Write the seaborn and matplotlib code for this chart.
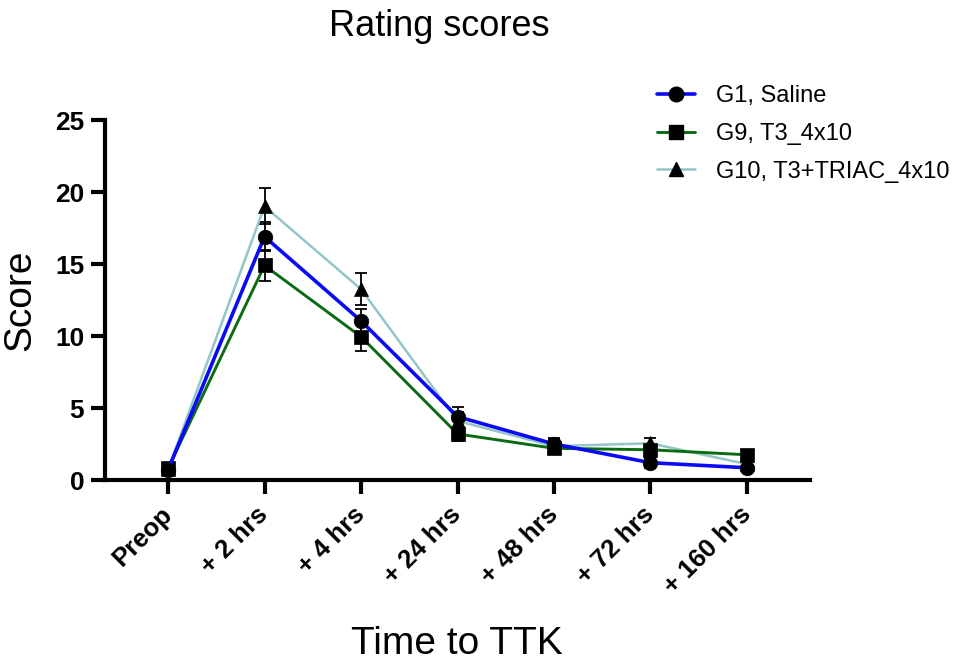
import matplotlib
matplotlib.use("Agg")
import numpy as np
import pandas as pd
import matplotlib.pyplot as plt
import seaborn as sns
from matplotlib.lines import Line2D

# ---- data ----
time_labels = ["Preop", "+ 2 hrs", "+ 4 hrs", "+ 24 hrs", "+ 48 hrs", "+ 72 hrs", "+ 160 hrs"]
series_names = ["G1, Saline", "G9, T3_4x10", "G10, T3+TRIAC_4x10"]

g1_mean = [0.7, 16.9, 11.05, 4.4, 2.5, 1.2, 0.85]
g1_sem = [0.2, 1.0, 0.85, 0.7, 0.4, 0.35, 0.2]
g9_mean = [0.8, 14.9, 9.95, 3.2, 2.2, 2.1, 1.75]
g9_sem = [0.2, 1.05, 1.0, 0.5, 0.35, 0.3, 0.2]
g10_mean = [0.75, 19.0, 13.25, 4.1, 2.35, 2.55, 1.1]
g10_sem = [0.2, 1.25, 1.1, 0.6, 0.5, 0.4, 0.2]

y_ticks = [0, 5, 10, 15, 20, 25]

means = {series_names[0]: g1_mean, series_names[1]: g9_mean, series_names[2]: g10_mean}
sems = {series_names[0]: g1_sem, series_names[1]: g9_sem, series_names[2]: g10_sem}

rows = []
for name in series_names:
    for i, lab in enumerate(time_labels):
        rows.append({"series": name, "t": i, "label": lab,
                     "score": means[name][i], "sem": sems[name][i]})
df = pd.DataFrame(rows)

# ---- styles ----
colors = {series_names[0]: "#0a0af5", series_names[1]: "#0b6b12", series_names[2]: "#93c6c8"}
markers = {series_names[0]: "o", series_names[1]: "s", series_names[2]: "^"}
msizes = {series_names[0]: 10.5, series_names[1]: 9.5, series_names[2]: 10.5}
lws = {series_names[0]: 2.6, series_names[1]: 2.1, series_names[2]: 1.8}
zord = {series_names[0]: 3.2, series_names[1]: 3.1, series_names[2]: 3.0}

sns.set_style("ticks")
plt.rcParams["font.family"] = ["Liberation Sans", "DejaVu Sans"]
plt.rcParams["text.color"] = "black"
plt.rcParams["axes.labelcolor"] = "black"
plt.rcParams["xtick.color"] = "black"
plt.rcParams["ytick.color"] = "black"

fig = plt.figure(figsize=(9.57, 6.63), dpi=100)
ax = fig.add_axes([105 / 957, 1 - 480 / 663, 705 / 957, 360 / 663])

# draw in reverse order so G1 sits on top
for name in series_names[::-1]:
    sub = df[df["series"] == name]
    ax.errorbar(sub["t"], sub["score"], yerr=sub["sem"], fmt="none",
                ecolor="black", elinewidth=1.3, capsize=4.3, capthick=1.3,
                zorder=zord[name] - 0.5)
    sns.lineplot(data=sub, x="t", y="score", ax=ax, color=colors[name],
                 linewidth=lws[name], marker=markers[name], markersize=msizes[name],
                 markerfacecolor="black", markeredgecolor="black",
                 markeredgewidth=0.5, zorder=zord[name], legend=False,
                 errorbar=None, sort=False)

ax.set_xlim(-0.653, 6.653)
ax.set_ylim(0, 25)
ax.set_yticks(y_ticks)
ax.set_yticklabels([str(v) for v in y_ticks], fontsize=19, fontweight="bold")
ax.set_xticks(range(len(time_labels)))
ax.set_xticklabels(time_labels, fontsize=18.5, fontweight="bold",
                   rotation=45, ha="right", va="center", rotation_mode="anchor")

for side in ["top", "right"]:
    ax.spines[side].set_visible(False)
for side in ["left", "bottom"]:
    ax.spines[side].set_linewidth(3)
    ax.spines[side].set_color("black")
ax.tick_params(axis="both", width=3, length=10, color="black", labelcolor="black")
ax.tick_params(axis="y", pad=5)
ax.tick_params(axis="x", pad=12)

ax.set_xlabel("")
ax.set_ylabel("Score", fontsize=28, labelpad=12, color="black")
fig.text(457 / 957, 1.5 / 663, "Time to TTK", fontsize=28, ha="center", va="bottom",
         color="black")
fig.text(439 / 957, 1 - 36.5 / 663, "Rating scores", fontsize=26, ha="center",
         va="baseline", color="black")

handles = [Line2D([0], [0], color=colors[n], lw=lws[n], marker=markers[n],
                  markersize=msizes[n], markerfacecolor="black",
                  markeredgecolor="black") for n in series_names]
leg = fig.legend(handles, series_names, loc="upper left",
                 bbox_to_anchor=(657 / 957, 1 - 85 / 663), frameon=False,
                 fontsize=17, handlelength=1.6, handletextpad=0.9,
                 labelspacing=0.67, borderpad=0, borderaxespad=0)
for t in leg.get_texts():
    t.set_color("black")

fig.savefig("out.png", dpi=100)
